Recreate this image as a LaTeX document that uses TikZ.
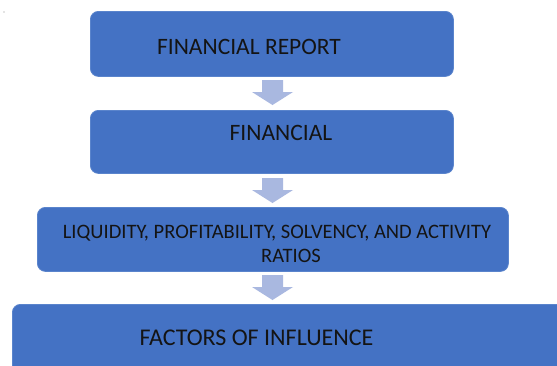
\documentclass[tikz,border=0pt]{standalone}
\usepackage{fontspec}
\setmainfont{Carlito}
\definecolor{boxblue}{HTML}{4472C4}
\definecolor{boxedge}{HTML}{5A84CC}
\definecolor{arrowblue}{HTML}{A9B8E0}
\tikzset{
  stage/.style={draw=boxedge, line width=0.8pt, fill=boxblue, rounded corners=8pt,
    anchor=north west, inner sep=0pt},
  flowarrow/.style={fill=arrowblue},
  caption/.style={text=black!92, inner sep=0pt, align=center}
}
% block arrow pointing down, hanging from its top-centre point
\newcommand{\downblock}[1]{%
  \fill[flowarrow] (#1) ++(-10.5,0) -- ++(21,0) -- ++(0,12) -- ++(10,0)
    -- ++(-20.5,13) -- ++(-20.5,-13) -- ++(10,0) -- cycle;}
\begin{document}
\begin{tikzpicture}[x=1pt,y=-1pt]
  \useasboundingbox (0,0) rectangle (557,365);
  \clip (0,0) rectangle (557,365);
  \fill[white] (0,0) rectangle (557,365);
  % stray mark in the upper left corner
  \fill[black!45] (4,12) circle (0.7pt);

  % stage boxes
  \node[stage, minimum width=363pt, minimum height=65pt] (report) at (90,11) {};
  \node[stage, minimum width=363pt, minimum height=63pt] (fin) at (90,110) {};
  \node[stage, minimum width=471pt, minimum height=64pt] (ratios) at (37,207) {};
  \node[stage, minimum width=600pt, minimum height=100pt] (factors) at (12,304) {};

  % arrows between stages
  \coordinate (a1) at (272.5,80);
  \coordinate (a2) at (272.5,178);
  \coordinate (a3) at (272.5,275);
  \downblock{a1}
  \downblock{a2}
  \downblock{a3}

  % captions
  \node[caption, font=\fontsize{23.5}{26}\selectfont] (t1) at (249,47) {FINANCIAL REPORT};
  \node[caption, font=\fontsize{23.5}{26}\selectfont] (t2) at (281,133) {FINANCIAL};
  \node[caption, font=\fontsize{20.5}{24}\selectfont] (t3) at (277,244)
    {LIQUIDITY, PROFITABILITY, SOLVENCY, AND ACTIVITY\\\hspace*{28pt}RATIOS};
  \node[caption, font=\fontsize{24}{26}\selectfont] (t4) at (256.5,338) {FACTORS OF INFLUENCE};
\end{tikzpicture}
\end{document}
